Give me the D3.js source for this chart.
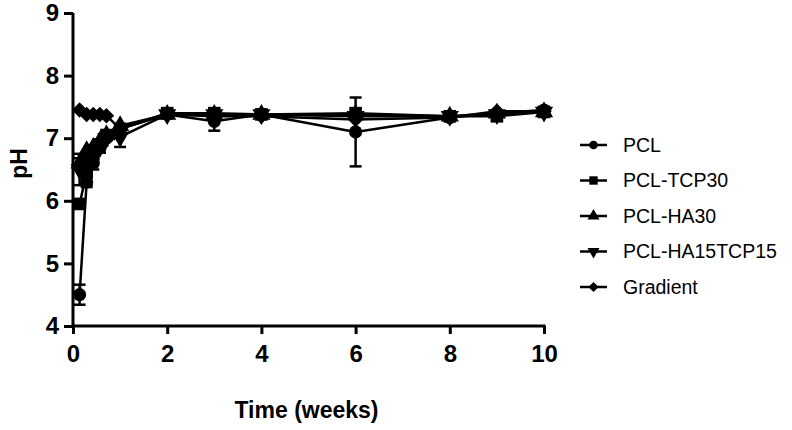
<!DOCTYPE html>
<html>
<head>
<meta charset="utf-8">
<script src="https://cdn.jsdelivr.net/npm/d3@7"></script>
<style>
  body { margin: 0; background: #fff; }
  svg { display: block; font-family: Arial, "Liberation Sans", sans-serif; }
</style>
</head>
<body>
<svg width="792" height="430"></svg>
<script>
const weeks = [0.14, 0.29, 0.43, 0.57, 0.71, 1, 2, 3, 4, 6, 8, 9, 10];

const pcl = [4.5, 6.3, 6.6, 6.85, 7.0, 7.15, 7.38, 7.27, 7.38, 7.1, 7.33, 7.4, 7.45];
const pclErr = [0.16, 0.08, 0.1, 0.08, 0.05, 0.05, 0.03, 0.15, 0.03, 0.55, 0.03, 0.03, 0.03];

const tcp30 = [5.95, 6.45, 6.75, 6.9, 7.05, 7.15, 7.4, 7.4, 7.38, 7.4, 7.35, 7.35, 7.42];
const tcp30Err = [0.05, 0.2, 0.1, 0.05, 0.05, 0.05, 0.03, 0.03, 0.03, 0.05, 0.03, 0.03, 0.03];

const ha30 = [6.6, 6.8, 6.85, 6.95, 7.05, 7.2, 7.38, 7.38, 7.38, 7.38, 7.35, 7.4, 7.42];
const ha30Err = [0.08, 0.05, 0.05, 0.05, 0.05, 0.05, 0.03, 0.03, 0.03, 0.03, 0.03, 0.03, 0.03];

const ha15tcp15 = [6.5, 6.6, 6.75, 6.85, 7.0, 7.02, 7.38, 7.38, 7.38, 7.35, 7.35, 7.38, 7.42];
const ha15tcp15Err = [0.25, 0.1, 0.08, 0.08, 0.05, 0.16, 0.03, 0.03, 0.03, 0.03, 0.03, 0.03, 0.03];

const gradient = [7.45, 7.38, 7.38, 7.38, 7.36, 7.15, 7.38, 7.35, 7.35, 7.3, 7.33, 7.43, 7.43];
const gradientErr = [0.03, 0.03, 0.03, 0.03, 0.03, 0.05, 0.03, 0.03, 0.03, 0.03, 0.03, 0.03, 0.03];

const xTicks = [0, 2, 4, 6, 8, 10];
const yTicks = [4, 5, 6, 7, 8, 9];

const series = [
  { name: 'PCL', values: pcl, err: pclErr, shape: 'circle' },
  { name: 'PCL-TCP30', values: tcp30, err: tcp30Err, shape: 'square' },
  { name: 'PCL-HA30', values: ha30, err: ha30Err, shape: 'triangle' },
  { name: 'PCL-HA15TCP15', values: ha15tcp15, err: ha15tcp15Err, shape: 'triangleDown' },
  { name: 'Gradient', values: gradient, err: gradientErr, shape: 'diamond' }
];

const svg = d3.select('svg');
const plotLeft = 73, plotRight = 544, plotTop = 13, plotBottom = 326;

const x = d3.scaleLinear().domain([0, 10]).range([plotLeft, plotRight]);
const y = d3.scaleLinear().domain([4, 9]).range([plotBottom, plotTop]);

// marker shapes, size is area in px^2
let symbolPath = (shape, size) => {
  if (shape == 'circle') return d3.symbol(d3.symbolCircle, size * 0.85)();
  if (shape == 'square') return d3.symbol(d3.symbolSquare, size)();
  if (shape == 'triangle' || shape == 'triangleDown') return d3.symbol(d3.symbolTriangle, size * 0.9)();
  if (shape == 'diamond') return d3.symbol(d3.symbolSquare, size * 0.75)();
};
let symbolRotate = (shape) => shape == 'triangleDown' ? 180 : (shape == 'diamond' ? 45 : 0);

const line = d3.line()
  .x((d) => x(d[0]))
  .y((d) => y(d[1]));

const plot = svg.append('g');

// error bars
series.forEach((s) => {
  const g = plot.append('g')
    .attr('stroke', '#000')
    .attr('stroke-width', 2.5);
  weeks.forEach((w, i) => {
    const lo = y(s.values[i] - s.err[i]);
    const hi = y(s.values[i] + s.err[i]);
    if (Math.abs(lo - hi) < 9) return;
    g.append('line')
      .attr('x1', x(w)).attr('x2', x(w))
      .attr('y1', lo).attr('y2', hi);
    [lo, hi].forEach((yy) => {
      g.append('line')
        .attr('x1', x(w) - 6).attr('x2', x(w) + 6)
        .attr('y1', yy).attr('y2', yy);
    });
  });
});

// lines
series.forEach((s) => {
  plot.append('path')
    .datum(weeks.map((w, i) => [w, s.values[i]]))
    .attr('fill', 'none')
    .attr('stroke', '#000')
    .attr('stroke-width', 2.5)
    .attr('stroke-linejoin', 'round')
    .attr('d', line);
});

// markers
series.forEach((s) => {
  plot.selectAll(null)
    .data(weeks.map((w, i) => [w, s.values[i]]))
    .enter().append('path')
      .attr('fill', '#000')
      .attr('d', symbolPath(s.shape, 160))
      .attr('transform', (d) => `translate(${x(d[0])},${y(d[1])}) rotate(${symbolRotate(s.shape)})`);
});

// axes
const xAxis = svg.append('g')
  .attr('transform', `translate(0,${plotBottom})`)
  .call(d3.axisBottom(x).tickValues(xTicks).tickFormat(d3.format('d')).tickSize(8).tickPadding(11).tickSizeOuter(0));
const yAxis = svg.append('g')
  .attr('transform', `translate(${plotLeft},0)`)
  .call(d3.axisLeft(y).tickValues(yTicks).tickFormat(d3.format('d')).tickSize(9).tickPadding(5).tickSizeOuter(0));

[xAxis, yAxis].forEach((a) => {
  a.select('.domain').attr('stroke', '#000').attr('stroke-width', 3);
  a.selectAll('.tick line').attr('stroke', '#000').attr('stroke-width', 3);
  a.selectAll('.tick text')
    .attr('fill', '#000')
    .style('font-size', '24px')
    .style('font-weight', 'bold')
    .style('font-family', 'Arial, "Liberation Sans", sans-serif');
});
// x-axis line extends a bit past y axis
xAxis.select('.domain').attr('d', `M${plotLeft - 1.5},0H${plotRight + 1.5}`);
yAxis.select('.domain').attr('d', `M0,${plotTop}V${plotBottom + 1.5}`);

svg.append('text')
  .attr('x', (plotLeft + plotRight) / 2 - 2)
  .attr('y', 418)
  .attr('text-anchor', 'middle')
  .style('font-size', '23px')
  .style('font-weight', 'bold')
  .text('Time (weeks)');

svg.append('text')
  .attr('transform', `translate(27,${(plotTop + plotBottom) / 2 - 6}) rotate(-90)`)
  .attr('text-anchor', 'middle')
  .style('font-size', '23px')
  .style('font-weight', 'bold')
  .text('pH');

// legend
const legend = svg.append('g');
series.forEach((s, i) => {
  const ly = 145 + i * 35.5;
  legend.append('line')
    .attr('x1', 580).attr('x2', 607)
    .attr('y1', ly).attr('y2', ly)
    .attr('stroke', '#000')
    .attr('stroke-width', 2.5);
  legend.append('path')
    .attr('fill', '#000')
    .attr('d', symbolPath(s.shape, 70))
    .attr('transform', `translate(593.5,${ly}) rotate(${symbolRotate(s.shape)})`);
  legend.append('text')
    .attr('x', 623)
    .attr('y', ly)
    .attr('dy', '0.35em')
    .style('font-size', '19.5px')
    .text(s.name);
});
</script>
</body>
</html>
